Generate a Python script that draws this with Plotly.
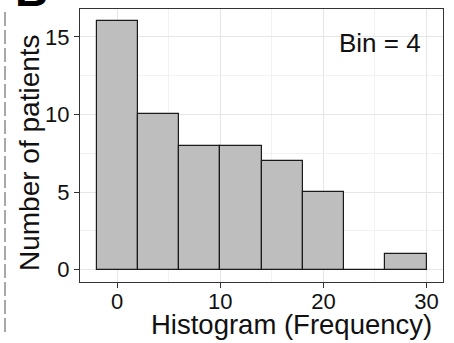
import plotly.graph_objects as go

bin_centers = [0, 4, 8, 12, 16, 20, 24, 28]
counts = [16, 10, 8, 8, 7, 5, 0, 1]
bin_width = 4
x_ticks = [0, 10, 20, 30]
y_ticks = [0, 5, 10, 15]

W, H = 454, 343
L, R, T, B = 80, 11, 9, 61
pw, ph = W - L - R, H - T - B

def px_x(p):
    return (p - L) / pw

def px_y(p):
    return (H - B - p) / ph

fig = go.Figure(go.Bar(
    x=bin_centers, y=counts, width=[bin_width] * len(bin_centers),
    marker=dict(color="#BEBEBE", line=dict(color="#1a1a1a", width=1.2)),
))

font = "Liberation Sans, Arial, sans-serif"
axis_common = dict(
    showline=True, linecolor="#333333", linewidth=1, mirror=True,
    ticks="outside", ticklen=5, tickcolor="#333333", tickwidth=1,
    showgrid=True, gridcolor="#E6E6E6", gridwidth=1, zeroline=False,
    tickfont=dict(family=font, size=22, color="#111111"),
)
fig.update_xaxes(range=[-3.6, 31.6], tickvals=x_ticks, ticklabelstandoff=-5,
                 minor=dict(showgrid=True, dtick=5, tick0=0, gridcolor="#F2F2F2", gridwidth=1),
                 **axis_common)
fig.update_yaxes(range=[-0.8, 16.8], tickvals=y_ticks,
                 minor=dict(showgrid=True, dtick=2.5, tick0=0, gridcolor="#F2F2F2", gridwidth=1),
                 **axis_common)

fig.add_annotation(text="Histogram (Frequency)", xref="paper", yref="paper",
                   x=px_x(291), y=px_y(325), xanchor="center", yanchor="middle",
                   showarrow=False, font=dict(family=font, size=27.5, color="#111111"))
fig.add_annotation(text="Number of patients", xref="paper", yref="paper",
                   x=px_x(29), y=px_y(153), xanchor="center", yanchor="middle", textangle=-90,
                   showarrow=False, font=dict(family=font, size=28, color="#111111"))
fig.add_annotation(text="Bin = 4", xref="paper", yref="paper",
                   x=px_x(380), y=px_y(43), xanchor="center", yanchor="middle",
                   showarrow=False, font=dict(family=font, size=26, color="#111111"))
fig.add_annotation(text="<b>B</b>", xref="paper", yref="paper",
                   x=px_x(31), y=px_y(-10), xanchor="center", yanchor="middle",
                   showarrow=False, font=dict(family=font, size=46, color="#000000"))
fig.add_shape(type="line", xref="paper", yref="paper",
              x0=px_x(5), x1=px_x(5), y0=px_y(12), y1=px_y(333),
              line=dict(color="#A8A8A8", width=2, dash="14px,4px"))

fig.update_layout(
    width=W, height=H, margin=dict(l=L, r=R, t=T, b=B),
    paper_bgcolor="white", plot_bgcolor="white", showlegend=False, bargap=0,
)
fig.write_html("out.html")
